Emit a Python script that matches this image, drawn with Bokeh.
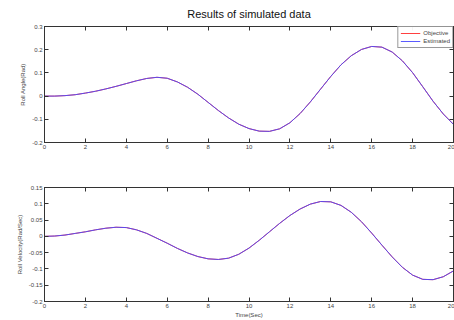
from bokeh.plotting import figure
from bokeh.layouts import column
from bokeh.models import LinearAxis, FixedTicker, Legend, LegendItem, Range1d
from bokeh.embed import file_html
from bokeh.resources import INLINE

time_sec = [i * 0.5 for i in range(41)]

obj_angle = [0.000, 0.000, 0.002, 0.006, 0.013, 0.021, 0.031, 0.042, 0.054, 0.066,
             0.076, 0.081, 0.077, 0.061, 0.038, 0.008, -0.027, -0.062, -0.094, -0.121,
             -0.140, -0.151, -0.152, -0.141, -0.115, -0.075, -0.025, 0.030, 0.085, 0.135,
             0.174, 0.201, 0.214, 0.211, 0.190, 0.152, 0.101, 0.040, -0.022, -0.077, -0.122]
est_angle = [0.000, 0.000, 0.002, 0.006, 0.013, 0.021, 0.031, 0.042, 0.054, 0.066,
             0.076, 0.081, 0.077, 0.061, 0.038, 0.008, -0.027, -0.062, -0.094, -0.121,
             -0.140, -0.151, -0.152, -0.141, -0.115, -0.075, -0.025, 0.030, 0.085, 0.135,
             0.174, 0.201, 0.214, 0.211, 0.190, 0.152, 0.101, 0.040, -0.022, -0.077, -0.122]

obj_vel = [0.000, 0.001, 0.004, 0.009, 0.014, 0.020, 0.025, 0.028, 0.027, 0.020,
           0.009, -0.006, -0.021, -0.037, -0.051, -0.062, -0.069, -0.071, -0.067, -0.055,
           -0.036, -0.012, 0.014, 0.040, 0.064, 0.084, 0.099, 0.107, 0.106, 0.095,
           0.074, 0.045, 0.010, -0.027, -0.063, -0.095, -0.119, -0.132, -0.133, -0.124, -0.106]
est_vel = [0.000, 0.001, 0.004, 0.009, 0.014, 0.020, 0.025, 0.028, 0.027, 0.020,
           0.009, -0.006, -0.021, -0.037, -0.051, -0.062, -0.069, -0.071, -0.067, -0.055,
           -0.036, -0.012, 0.014, 0.040, 0.064, 0.084, 0.099, 0.107, 0.106, 0.095,
           0.074, 0.045, 0.010, -0.027, -0.063, -0.095, -0.119, -0.132, -0.133, -0.124, -0.106]

x_ticks = [0, 2, 4, 6, 8, 10, 12, 14, 16, 18, 20]
angle_ticks = [-0.2, -0.1, 0, 0.1, 0.2, 0.3]
angle_labels = ["-0.2", "-0.1", "0", "0.1", "0.2", "0.3"]
vel_ticks = [-0.2, -0.15, -0.1, -0.05, 0, 0.05, 0.1, 0.15]
vel_labels = ["-0.2", "-0.15", "-0.1", "-0.05", "0", "0.05", "0.1", "0.15"]

FONT = "Liberation Sans"
AX = "#333333"
TXT = "#444444"


def style_axis(ax, ticks, labels=None, show_labels=True):
    ax.ticker = FixedTicker(ticks=ticks)
    if show_labels:
        if labels is not None:
            ax.major_label_overrides = {t: l for t, l in zip(ticks, labels)}
    else:
        ax.major_label_overrides = {t: "" for t in ticks}
    ax.major_tick_in = 4
    ax.major_tick_out = 0
    ax.minor_tick_line_color = None
    ax.axis_line_color = AX
    ax.major_tick_line_color = AX
    ax.major_label_text_font = FONT
    ax.major_label_text_font_size = "6px" if show_labels else "0px"
    ax.major_label_text_color = TXT
    ax.major_label_standoff = 2 if show_labels else 0
    ax.axis_label_text_font = FONT
    ax.axis_label_text_font_size = "6px"
    ax.axis_label_text_font_style = "normal"
    ax.axis_label_text_color = TXT
    ax.axis_label_standoff = 3


def make_fig(height, y0, y1, top, bottom, yticks, ylabels, ylab, xlab, ys_obj, ys_est, legend):
    p = figure(width=454, height=height, x_range=Range1d(0, 20), y_range=Range1d(y0, y1),
               output_backend="svg", toolbar_location=None,
               min_border_left=44, min_border_right=1, min_border_top=top, min_border_bottom=bottom,
               x_axis_label=xlab, y_axis_label=ylab)
    p.grid.visible = False
    p.outline_line_color = AX
    p.background_fill_color = "white"
    p.border_fill_color = "white"
    style_axis(p.xaxis[0], x_ticks)
    style_axis(p.yaxis[0], yticks, ylabels)
    p.xaxis[0].axis_label_standoff = 1
    ta = LinearAxis()
    style_axis(ta, x_ticks, show_labels=False)
    p.add_layout(ta, "above")
    ra = LinearAxis()
    style_axis(ra, yticks, show_labels=False)
    p.add_layout(ra, "right")
    r1 = p.line(time_sec, ys_obj, line_color="#ff4040", line_width=1.0)
    r2 = p.line(time_sec, ys_est, line_color="#4848ff", line_width=0.9)
    if legend:
        lg = Legend(items=[LegendItem(label="Objective", renderers=[r1]),
                           LegendItem(label="Estimated", renderers=[r2])],
                    location="top_right")
        lg.margin = 0
        lg.padding = 2
        lg.spacing = 0
        lg.label_text_font = FONT
        lg.label_text_font_size = "6px"
        lg.label_text_color = TXT
        lg.label_height = 8
        lg.glyph_height = 8
        lg.glyph_width = 20
        lg.label_standoff = 3
        lg.border_line_color = AX
        lg.border_line_width = 1
        p.add_layout(lg)
    return p


p1 = make_fig(160, -0.2, 0.3, 26, 18, angle_ticks, angle_labels, "Roll Angle(Rad)", None,
              obj_angle, est_angle, True)
p1.title.text = "Results of simulated data"
p1.title.align = "center"
p1.title.text_font = FONT
p1.title.text_font_size = "11px"
p1.title.text_font_style = "normal"
p1.title.text_color = "#111111"
p1.title.vertical_align = "top"

p2 = make_fig(160, -0.2, 0.15, 27, 17, vel_ticks, vel_labels, "Roll Velocity(Rad/Sec)", "Time(Sec)",
              obj_vel, est_vel, False)

layout = column(p1, p2, spacing=0)
open("out.html", "w").write(file_html(layout, INLINE))
